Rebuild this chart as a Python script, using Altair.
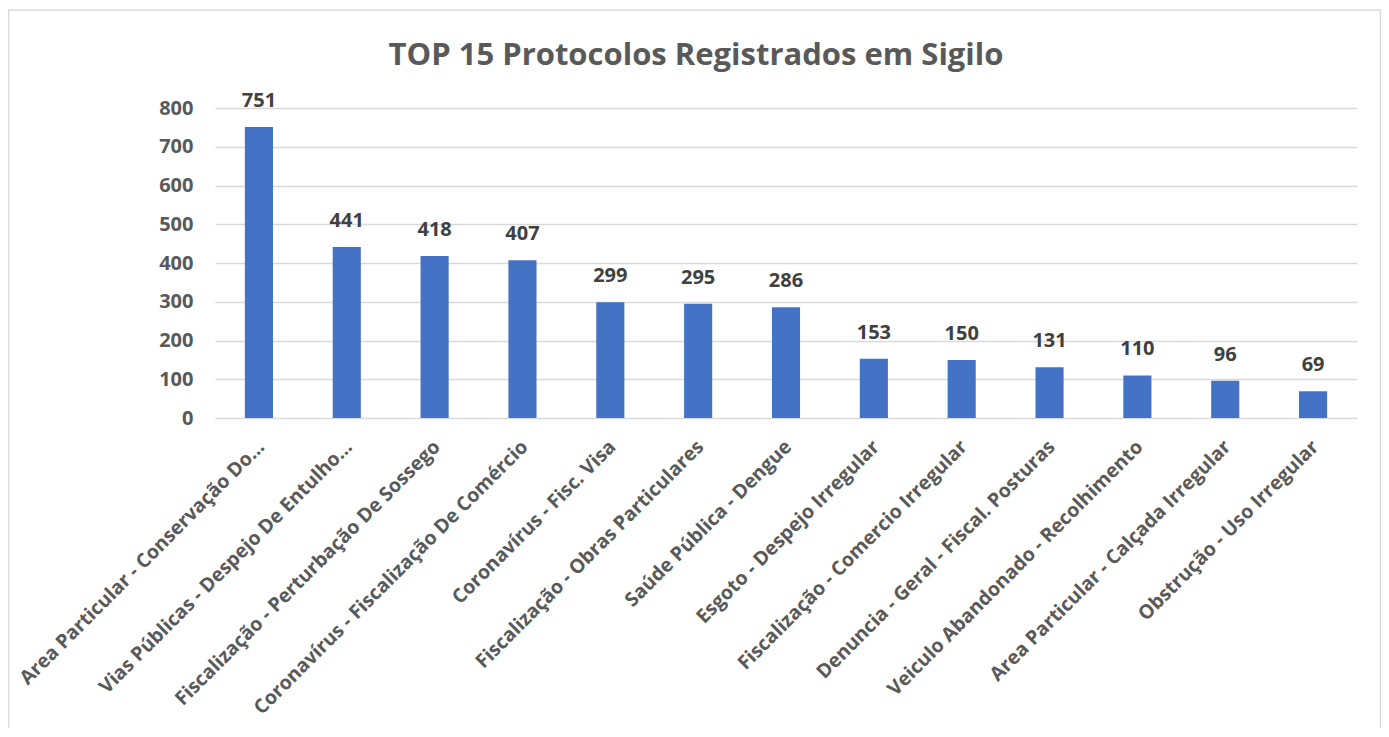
import altair as alt
import pandas as pd

categories = [
    "Area Particular - Conservação Do…",
    "Vias Públicas - Despejo De Entulho…",
    "Fiscalização - Perturbação De Sossego",
    "Coronavírus - Fiscalização De Comércio",
    "Coronavírus - Fisc. Visa",
    "Fiscalização - Obras Particulares",
    "Saúde Pública - Dengue",
    "Esgoto - Despejo Irregular",
    "Fiscalização - Comercio Irregular",
    "Denuncia - Geral - Fiscal. Posturas",
    "Veiculo Abandonado - Recolhimento",
    "Area Particular - Calçada Irregular",
    "Obstrução - Uso Irregular",
]
values = [751, 441, 418, 407, 299, 295, 286, 153, 150, 131, 110, 96, 69]
y_ticks = [0, 100, 200, 300, 400, 500, 600, 700, 800]
title_text = "TOP 15 Protocolos Registrados em Sigilo"

df = pd.DataFrame({"cat": categories, "val": values})

FONT = "Open Sans"
TXT = "#595959"

x_scale = alt.Scale(paddingInner=0.68, paddingOuter=0.34)
y_scale = alt.Scale(domain=[0, 800], nice=False)

x_axis = alt.Axis(
    labelAngle=-45,
    labelAlign="right",
    labelBaseline="top",
    labelFont=FONT,
    labelFontSize=19.5,
    labelFontWeight="bold",
    labelColor=TXT,
    labelLimit=600,
    labelOffset=-4,
    labelPadding=19,
    labelOverlap=False,
    ticks=False,
    domain=False,
    grid=False,
)
y_axis = alt.Axis(
    values=y_ticks,
    labelFont=FONT,
    labelFontSize=20,
    labelFontWeight="bold",
    labelColor=TXT,
    labelPadding=22,
    labelOverlap=False,
    ticks=False,
    domain=False,
    gridColor="#D9D9D9",
    gridWidth=1.5,
)

x_enc = alt.X("cat:N", sort=None, title=None, scale=x_scale, axis=x_axis)
y_enc = alt.Y("val:Q", title=None, scale=y_scale, axis=y_axis)

bars = alt.Chart(df).mark_bar(color="#4472C4").encode(x=x_enc, y=y_enc)

labels = alt.Chart(df).mark_text(
    font=FONT, fontSize=20, fontWeight="bold", color="#404040",
    baseline="alphabetic", dy=-20,
).encode(x=x_enc, y=y_enc, text="val:Q")

title = alt.Chart(pd.DataFrame({"t": [title_text]})).mark_text(
    font=FONT, fontSize=31, fontWeight="bold", color=TXT,
    align="center", baseline="alphabetic",
).encode(x=alt.value(481), y=alt.value(-43), text="t:N")

frame = alt.Chart(pd.DataFrame({"a": [1]})).mark_rect(
    fill=None, stroke="#D9D9D9", strokeWidth=1.5,
).encode(
    x=alt.value(-206.5), x2=alt.value(1165.5),
    y=alt.value(-98), y2=alt.value(700),
)

chart = (
    alt.layer(frame, bars, labels, title)
    .properties(
        width=1142,
        height=310,
        autosize=alt.AutoSizeParams(type="none"),
        padding={"left": 207, "top": 100, "right": 24, "bottom": 310},
        background="white",
    )
    .configure_view(stroke=None)
)

chart.save("out.html", embed_options={"renderer": "svg", "actions": False})
